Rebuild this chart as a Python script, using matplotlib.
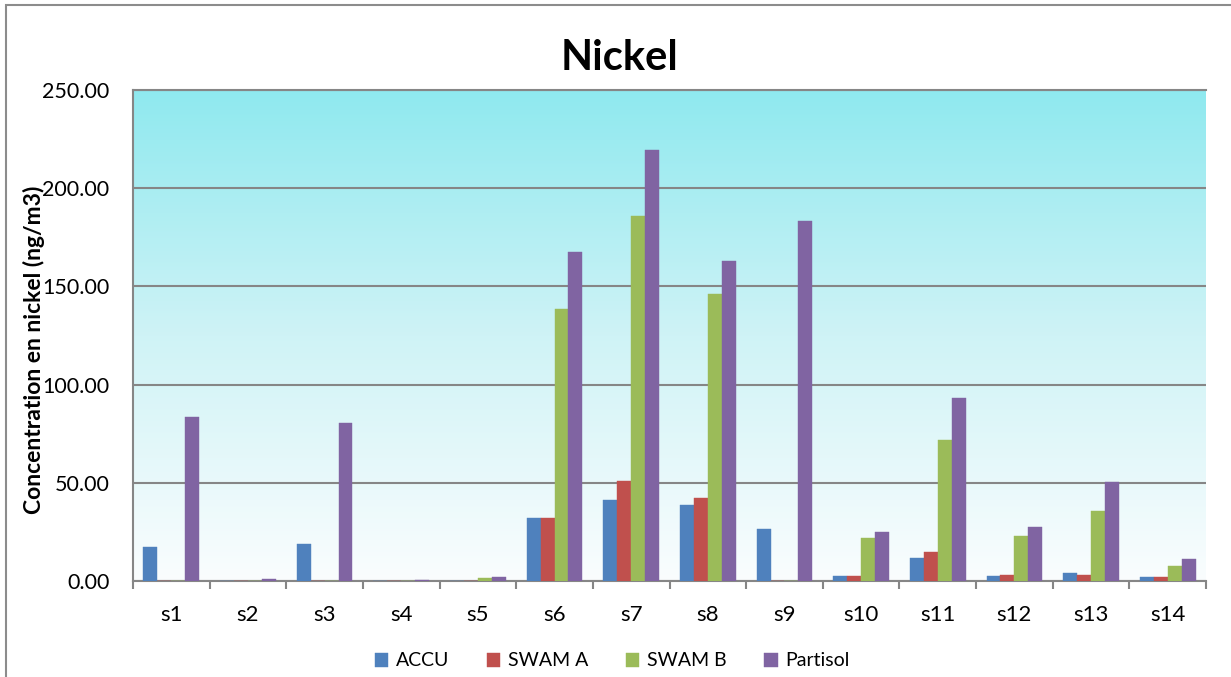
import numpy as np
import matplotlib
matplotlib.use("Agg")
import matplotlib.pyplot as plt
from matplotlib.colors import LinearSegmentedColormap
from matplotlib.patches import Rectangle

plt.rcParams['font.family'] = ['Lato', 'DejaVu Sans']

sites = ["s1", "s2", "s3", "s4", "s5", "s6", "s7", "s8", "s9", "s10", "s11", "s12", "s13", "s14"]
accu     = [17.3, 0.0, 18.7, 0.0, 0.0, 31.9, 41.4, 38.8, 26.6, 2.8, 11.6, 2.8, 4.3, 2.0]
swam_a   = [0.0, 0.0, 0.0, 0.0, 0.0, 31.9, 50.7, 42.4, 0.0, 2.5, 14.8, 3.0, 3.1, 1.8]
swam_b   = [0.0, 0.0, 0.0, 0.0, 1.5, 138.5, 186.0, 146.0, 0.0, 21.7, 71.8, 23.1, 35.6, 7.5]
partisol = [83.5, 1.0, 80.5, 0.4, 2.0, 167.5, 219.5, 163.0, 183.3, 24.8, 93.2, 27.3, 50.6, 11.0]

series = [("ACCU", accu, "#4F81BD"),
          ("SWAM A", swam_a, "#C0504D"),
          ("SWAM B", swam_b, "#9BBB59"),
          ("Partisol", partisol, "#8064A2")]

W, H = 1231, 677
fig = plt.figure(figsize=(W / 100, H / 100), dpi=100)
fig.patch.set_facecolor("white")

# outer chart frame
fig.patches.append(Rectangle((6 / W, -0.05), 1.2, 1 - 5 / H + 0.05, transform=fig.transFigure,
                             fill=False, edgecolor="#8C8C8C", linewidth=1.5, zorder=0))

L, R, T, B = 133, 1206, 90, 581
ax = fig.add_axes([L / W, 1 - B / H, (R - L) / W, (B - T) / H])

ymax = 250
# vertical gradient fill of the plot area
cmap = LinearSegmentedColormap.from_list("bg", ["#FAFDFE", "#CFF3F6", "#8FE9EF"])
grad = np.linspace(0, 1, 256).reshape(-1, 1)
ax.imshow(grad, aspect="auto", cmap=cmap, origin="lower",
          extent=[-0.5, len(sites) - 0.5, 0, ymax], zorder=0)

n = len(series)
x = np.arange(len(sites))
bw = 1 / (n + 1.5)
for i, (name, vals, col) in enumerate(series):
    offs = (i - (n - 1) / 2) * bw
    ax.bar(x + offs, vals, width=bw, color=col, label=name, zorder=3,
           edgecolor=col, linewidth=0.3)

ax.set_xlim(-0.5, len(sites) - 0.5)
ax.set_ylim(0, ymax)
ax.set_yticks(np.arange(0, 251, 50))
ax.set_yticklabels([f"{v:.2f}" for v in np.arange(0, 251, 50)])
ax.yaxis.grid(True, color="#868686", linewidth=1.5, zorder=1)
ax.set_axisbelow(True)

ax.set_xticks(x)
ax.set_xticklabels(sites)
ax.set_xticks(np.arange(-0.5, len(sites), 1), minor=True)
ax.tick_params(axis="x", which="major", length=0, pad=17, labelsize=16)
ax.tick_params(axis="x", which="minor", length=6, width=1.5, color="#868686", direction="out")
ax.tick_params(axis="y", length=0, pad=17, labelsize=15.5)

for side in ["left", "top", "right", "bottom"]:
    ax.spines[side].set_color("#868686")
    ax.spines[side].set_linewidth(1.5)
ax.spines["right"].set_visible(False)

fig.text(34 / W, 1 - 350 / H, "Concentration en nickel (ng/m3)", rotation=90,
         ha="center", va="center", fontsize=16.5, fontweight="bold")
fig.text(620 / W, 1 - 70 / H, "Nickel", ha="center", va="baseline",
         fontsize=30, fontweight="bold")

leg = fig.legend(loc="center", bbox_to_anchor=(612 / W, 1 - 661 / H), ncol=4, frameon=False,
                 fontsize=14, handlelength=0.7, handleheight=0.7, columnspacing=1.95,
                 handletextpad=0.37)

fig.savefig("out.png", dpi=100)
